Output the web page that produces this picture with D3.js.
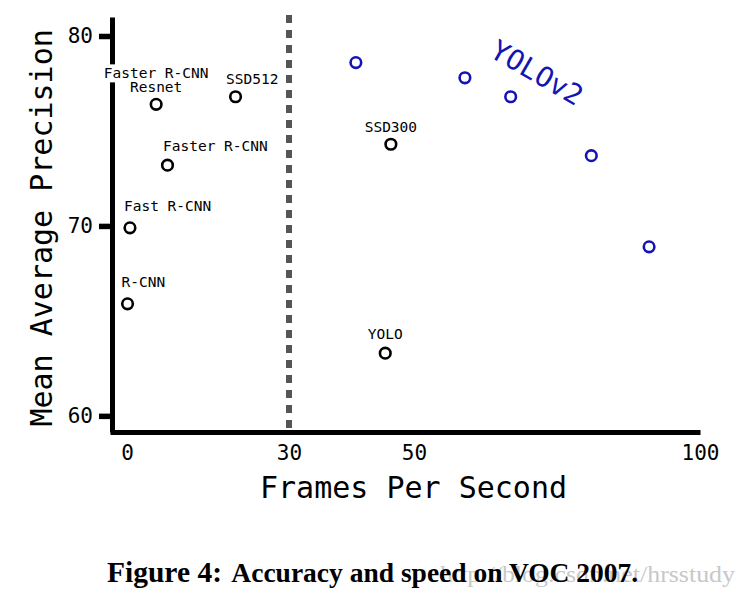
<!DOCTYPE html>
<html>
<head>
<meta charset="utf-8">
<script src="https://cdn.jsdelivr.net/npm/d3@7"></script>
<style>
  html, body { margin: 0; padding: 0; background: #fff; }
  svg { display: block; font-family: "DejaVu Sans Mono", monospace; }
</style>
</head>
<body>
<svg id="chart" width="739" height="593"></svg>
<script>
// ---- data -------------------------------------------------------------------
const methodNames = [["R-CNN"], ["Fast R-CNN"], ["Faster R-CNN"], ["Faster R-CNN", "Resnet"], ["SSD512"], ["SSD300"], ["YOLO"]];
const methodFps = [0.1, 0.55, 7.5, 5.4, 20.1, 46.3, 45.4];
const methodMap = [65.9, 69.9, 73.2, 76.4, 76.8, 74.3, 63.3];

const yolo2Fps = [40.7, 58.9, 66.9, 81.0, 91.1];
const yolo2Map = [78.6, 77.8, 76.8, 73.7, 68.9];

const xTicks = [0, 30, 50, 100];
const yTicks = [60, 70, 80];
const realtimeFps = 30;

// ---- layout -----------------------------------------------------------------
// label placement per method: anchor, dx, dy of the last line's baseline
const labelPos = [
  { anchor: "start", dx: -6, dy: -17 },
  { anchor: "start", dx: -6, dy: -17 },
  { anchor: "start", dx: -4.5, dy: -14 },
  { anchor: "middle", dx: 0, dy: -12 },
  { anchor: "start", dx: -9.5, dy: -12.5 },
  { anchor: "middle", dx: 0, dy: -12 },
  { anchor: "middle", dx: 0, dy: -14 },
];
const BLUE = "#1414b4";
const MONO = "'DejaVu Sans Mono', monospace";
const SERIF = "'Liberation Serif', 'Times New Roman', serif";

const svg = d3.select("#chart");

// the x axis of the figure is not uniform: piecewise linear scale
const x = d3.scaleLinear().domain([-3.2, 0, 30, 50, 100]).range([110, 127, 289, 414, 700]);
const y = d3.scaleLinear().domain([59.15, 81]).range([432, 17]);

// realtime line
svg.append("line")
  .attr("x1", x(realtimeFps)).attr("x2", x(realtimeFps))
  .attr("y1", y(81.1)).attr("y2", y(59.15))
  .attr("stroke", "#555").attr("stroke-width", 6).attr("stroke-dasharray", "8,7");

// ---- axes
const yAxis = svg.append("g")
  .attr("transform", `translate(112,0)`)
  .call(d3.axisLeft(y).tickValues(yTicks).tickSize(13).tickSizeOuter(0).tickPadding(6));
yAxis.select(".domain").attr("stroke", "#000").attr("stroke-width", 5);
yAxis.selectAll(".tick line").attr("stroke", "#000").attr("stroke-width", 5.5);
yAxis.selectAll(".tick text").style("font-family", MONO).style("font-size", "21px").attr("fill", "#000");

const xAxis = svg.append("g")
  .attr("transform", `translate(0,432)`)
  .call(d3.axisBottom(x).tickValues(xTicks).tickSize(0).tickSizeOuter(0));
xAxis.select(".domain").attr("stroke", "#000").attr("stroke-width", 5);
xAxis.selectAll(".tick text").style("font-family", MONO).style("font-size", "21px")
  .attr("fill", "#000").attr("y", 28).attr("dy", 0);

svg.append("text")
  .attr("transform", `translate(52,${y(70) + 2}) rotate(-90)`)
  .attr("text-anchor", "middle").style("font-size", "30px").attr("fill", "#000")
  .text("Mean Average Precision");

svg.append("text")
  .attr("x", (x(0) + x(100)) / 2).attr("y", 498)
  .attr("text-anchor", "middle").style("font-size", "30px").attr("fill", "#000")
  .text("Frames Per Second");

// ---- other detectors
const methods = methodNames.map((lines, i) => ({ lines, fps: methodFps[i], map: methodMap[i], pos: labelPos[i] }));

const gLabels = svg.append("g");
methods.forEach((m) => {
  const px = x(m.fps), py = y(m.map);
  m.lines.forEach((line, j) => {
    const t = gLabels.append("text")
      .attr("x", px + m.pos.dx)
      .attr("y", py + m.pos.dy - (m.lines.length - 1 - j) * 14)
      .attr("text-anchor", m.pos.anchor)
      .style("font-size", "14.5px").attr("fill", "#000")
      .text(line);
    // white box behind each label line (it cuts through the y axis)
    const b = t.node().getBBox();
    gLabels.insert("rect", () => t.node())
      .attr("x", b.x - 4).attr("y", b.y - 1).attr("width", b.width + 8).attr("height", b.height + 2)
      .attr("fill", "#fff");
  });
});

svg.append("g").selectAll("circle").data(methods).join("circle")
  .attr("cx", (d) => x(d.fps)).attr("cy", (d) => y(d.map)).attr("r", 5.3)
  .attr("fill", "#fff").attr("stroke", "#000").attr("stroke-width", 2.6);

// ---- YOLOv2
const yolo2 = yolo2Fps.map((f, i) => ({ fps: f, map: yolo2Map[i] }));
svg.append("g").selectAll("circle").data(yolo2).join("circle")
  .attr("cx", (d) => x(d.fps)).attr("cy", (d) => y(d.map)).attr("r", 5.3)
  .attr("fill", "#fff").attr("stroke", BLUE).attr("stroke-width", 2.6);

svg.append("text")
  .attr("transform", `translate(${x(63.0)},${y(78.95)}) rotate(30)`)
  .style("font-size", "28px").attr("fill", BLUE)
  .text("YOLOv2");

// ---- caption + watermark
svg.append("text")
  .attr("x", 440).attr("y", 582)
  .style("font-family", SERIF).style("font-size", "24px").attr("fill", "#c8c8c8")
  .attr("textLength", 295).attr("lengthAdjust", "spacingAndGlyphs")
  .text("http://blog.csdn.net/hrsstudy");

const cap = svg.append("text")
  .attr("x", 107).attr("y", 582)
  .style("font-family", SERIF).style("font-weight", "bold").attr("fill", "#000");
cap.append("tspan").style("font-size", "29.5px").text("Figure 4:");
cap.append("tspan").attr("dx", 4).style("font-size", "27.5px").text(" Accuracy and speed on VOC 2007.");
</script>
</body>
</html>
